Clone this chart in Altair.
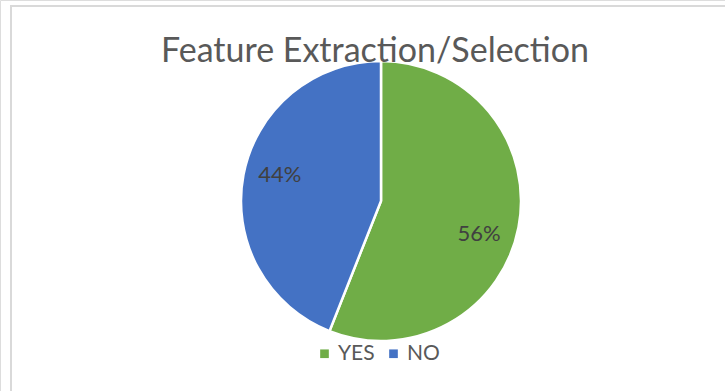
import altair as alt
import pandas as pd

categories = ["YES", "NO"]
shares = [56, 44]
colors = ["#70AD47", "#4472C4"]
title_text = "Feature Extraction/Selection"

df = pd.DataFrame({"category": categories, "share": shares, "idx": list(range(len(categories)))})

CX, CY, R = 381, 201, 140
FONT = "Lato"

base = alt.Chart(df)

theta_scale = alt.Scale(domain=[0, 100])

pie = base.mark_arc(outerRadius=R, stroke="white", strokeWidth=2.5).encode(
    theta=alt.Theta("share:Q", stack=True, scale=theta_scale),
    order=alt.Order("idx:Q"),
    color=alt.Color(
        "category:N",
        scale=alt.Scale(domain=categories, range=colors),
        sort=categories,
        legend=alt.Legend(
            title=None,
            orient="none",
            legendX=314,
            legendY=343,
            direction="horizontal",
            symbolType="square",
            symbolSize=75,
            symbolStrokeWidth=0,
            labelFont=FONT,
            labelFontSize=21,
            labelColor="#595959",
            labelOffset=3,
            columnPadding=8,
        ),
    ),
    x=alt.value(CX),
    y=alt.value(CY),
)

lab_base = base.transform_window(
    cum="sum(share)", sort=[alt.SortField("idx")]
).transform_calculate(
    mid="datum.cum - datum.share / 2",
    label="datum.share + '%'",
)

def label_layer(cat, dx, dy):
    return lab_base.transform_filter(alt.datum.category == cat).mark_text(
        radius=104, font=FONT, fontSize=22, color="#404040", dx=dx, dy=dy
    ).encode(
        theta=alt.Theta("mid:Q", scale=theta_scale, stack=None),
        text="label:N",
        x=alt.value(CX),
        y=alt.value(CY),
    )

lab_yes = label_layer("YES", -4, 14)
lab_no = label_layer("NO", 1, -7)

title = alt.Chart(pd.DataFrame({"t": [title_text]})).mark_text(
    font=FONT, fontSize=34, color="#595959", baseline="alphabetic", align="center"
).encode(text="t:N", x=alt.value(375), y=alt.value(62))

border = alt.Chart(pd.DataFrame({"a": [0]})).mark_rect(
    fill=None, stroke="#D9D9D9", strokeWidth=2
).encode(x=alt.value(11), y=alt.value(6), x2=alt.value(900), y2=alt.value(600))

chart = alt.layer(border, pie, lab_yes, lab_no, title).properties(
    width=725, height=391, padding=0, autosize=alt.AutoSizeParams(type="none")
).configure_view(stroke=None).configure(background="white")

chart.save("out.html", embed_options={"renderer": "svg", "actions": False})
